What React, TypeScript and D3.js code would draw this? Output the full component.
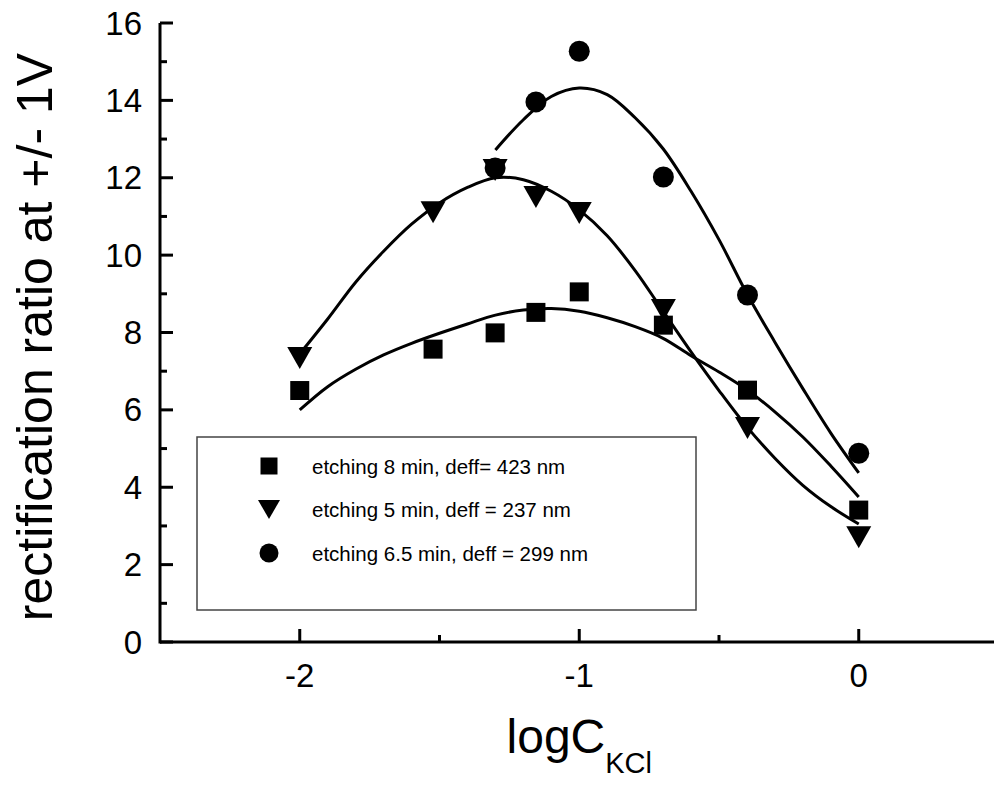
import * as d3 from "d3";

// measured points, x = log10 of KCl concentration
const logC = [-2, -1.523, -1.301, -1.155, -1, -0.699, -0.398, 0];
const ratio8min = [6.5, 7.57, 7.99, 8.52, 9.05, 8.19, 6.51, 3.41];
const ratio5min = [7.34, 11.11, 12.2, 11.5, 11.09, 8.58, 5.53, 2.71];
const logC65 = [-1.301, -1.155, -1, -0.699, -0.398, 0];
const ratio65min = [12.25, 13.96, 15.27, 12.02, 8.97, 4.88];

// fitted curves
const fitX = [-2, -1.9, -1.8, -1.7, -1.6, -1.5, -1.4, -1.3, -1.2, -1.1, -1, -0.9, -0.8, -0.7, -0.6, -0.5, -0.4, -0.3, -0.2, -0.1, 0];
const fit8min = [6.0, 6.6, 7.05, 7.42, 7.72, 7.98, 8.22, 8.45, 8.58, 8.62, 8.55, 8.38, 8.15, 7.85, 7.4, 6.98, 6.52, 5.95, 5.3, 4.55, 3.75];
const fit5min = [7.45, 8.35, 9.3, 10.1, 10.8, 11.35, 11.75, 12.0, 11.95, 11.65, 11.17, 10.5, 9.6, 8.55, 7.5, 6.5, 5.56, 4.75, 4.05, 3.5, 3.05];
const fitX65 = [-1.3, -1.2, -1.1, -1, -0.9, -0.8, -0.7, -0.6, -0.5, -0.4, -0.3, -0.2, -0.1, 0];
const fit65min = [12.72, 13.5, 14.1, 14.32, 14.15, 13.55, 12.75, 11.65, 10.4, 9.0, 7.75, 6.55, 5.4, 4.37];

const xMajor = [-2, -1, 0];
const xMinor = [-1.5, -0.5];
const yMajor = [0, 2, 4, 6, 8, 10, 12, 14, 16];
const yMinor = [1, 3, 5, 7, 9, 11, 13, 15];

const legendLabels = [
  "etching 8 min, deff= 423 nm",
  "etching 5 min, deff = 237 nm",
  "etching 6.5 min, deff = 299 nm",
];

const font = "'Liberation Sans', Arial, Helvetica, sans-serif";

const square = (s: number) => `M${-s / 2},${-s / 2}h${s}v${s}h${-s}Z`;
const triangle = (w: number, h: number) =>
  `M${-w / 2},${-h / 2}L${w / 2},${-h / 2}L0,${h / 2}Z`;
const circle = (r: number) =>
  `M${-r},0a${r},${r} 0 1,0 ${2 * r},0a${r},${r} 0 1,0 ${-2 * r},0Z`;

export default function App() {
  const width = 994;
  const height = 785;

  const x = d3.scaleLinear().domain([-2.5, 0.5]).range([160, 998.5]);
  const y = d3.scaleLinear().domain([0, 16]).range([642, 23]);

  const line = d3
    .line<[number, number]>()
    .x((d) => x(d[0]))
    .y((d) => y(d[1]))
    .curve(d3.curveCatmullRom);

  const fits = [
    fitX.map((v, i) => [v, fit8min[i]] as [number, number]),
    fitX.map((v, i) => [v, fit5min[i]] as [number, number]),
    fitX65.map((v, i) => [v, fit65min[i]] as [number, number]),
  ];

  const markers = [
    { xs: logC, ys: ratio8min, d: square(19) },
    { xs: logC, ys: ratio5min, d: triangle(25, 22) },
    { xs: logC65, ys: ratio65min, d: circle(10.5) },
  ];
  const legendSymbols = [square(17), triangle(22, 19), circle(9.5)];

  const x0 = x.range()[0];
  const yBase = y(0);

  return (
    <svg
      width={width}
      height={height}
      style={{ position: "absolute", left: 0, top: 0, background: "#fff" }}
      fontFamily={font}
    >
      {/* fit curves */}
      {fits.map((f, i) => (
        <path key={i} d={line(f) ?? ""} fill="none" stroke="#000" strokeWidth={3} />
      ))}

      {/* data markers */}
      {markers.map((m, i) =>
        m.xs.map((v, j) => (
          <path
            key={`${i}-${j}`}
            d={m.d}
            transform={`translate(${x(v)},${y(m.ys[j])})`}
            fill="#000"
          />
        ))
      )}

      {/* axes */}
      <line x1={x0} x2={width} y1={yBase} y2={yBase} stroke="#000" strokeWidth={3} />
      <line x1={x0} x2={x0} y1={y(16)} y2={yBase + 1.5} stroke="#000" strokeWidth={3} />

      {xMajor.map((t) => (
        <g key={`xm${t}`}>
          <line x1={x(t)} x2={x(t)} y1={yBase} y2={yBase - 13} stroke="#000" strokeWidth={3} />
          <text x={x(t)} y={687} fontSize={33} textAnchor="middle">
            {t}
          </text>
        </g>
      ))}
      {xMinor.map((t) => (
        <line key={`xn${t}`} x1={x(t)} x2={x(t)} y1={yBase} y2={yBase - 7} stroke="#000" strokeWidth={3} />
      ))}

      {yMajor.map((t) => (
        <g key={`ym${t}`}>
          <line x1={x0} x2={x0 + 13} y1={y(t)} y2={y(t)} stroke="#000" strokeWidth={3} />
          <text x={142} y={y(t) + 11.5} fontSize={33} textAnchor="end">
            {t}
          </text>
        </g>
      ))}
      {yMinor.map((t) => (
        <line key={`yn${t}`} x1={x0} x2={x0 + 7} y1={y(t)} y2={y(t)} stroke="#000" strokeWidth={3} />
      ))}

      {/* axis titles */}
      <text transform="translate(52,337) rotate(-90)" fontSize={50} textAnchor="middle">
        rectification ratio at +/- 1V
      </text>
      <text x={x(-1)} y={753} textAnchor="middle" fontSize={48}>
        logC
        <tspan fontSize={29} dy={20}>
          KCl
        </tspan>
      </text>

      {/* legend */}
      <rect x={197} y={437} width={499} height={173} fill="#fff" stroke="#444" strokeWidth={1.5} />
      {legendLabels.map((label, i) => (
        <g key={label} transform={`translate(0,${466 + i * 43.5})`}>
          <path d={legendSymbols[i]} transform="translate(269,0)" fill="#000" />
          <text x={312} y={7.5} fontSize={20.5}>
            {label}
          </text>
        </g>
      ))}
    </svg>
  );
}
